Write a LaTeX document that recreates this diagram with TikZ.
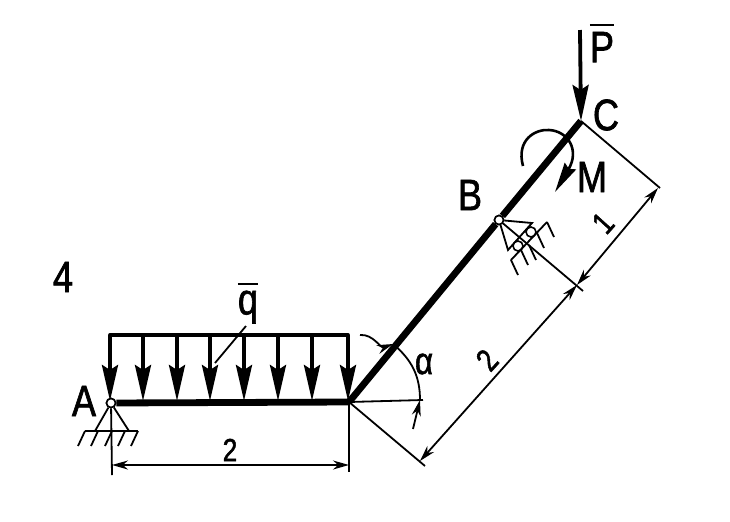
\documentclass[tikz,border=0pt]{standalone}
\usepackage{fontspec}
\setmainfont{Liberation Sans}[FakeStretch=0.82,FakeBold=1.5]
\usetikzlibrary{arrows.meta}
\newcommand{\barred}[1]{\vbox{\hrule height 1.1pt \kern 3pt \hbox{#1}}}
\begin{document}
\begin{tikzpicture}[x=0.5pt,y=-0.5pt,
        lbl/.style = {inner sep=0pt, font=\fontsize{22}{22}\selectfont},
        num/.style = {inner sep=0pt, font=\fontsize{16}{16}\selectfont},
        pin/.style = {draw, circle, fill=white, line width=0.8pt, inner sep=0pt, minimum size=4.5pt},
        rollr/.style = {draw, circle, fill=white, line width=0.8pt, inner sep=0pt, minimum size=5pt},
        beam/.style = {line width=3.4pt},
        load/.style = {line width=1.9pt, -{Stealth[length=18pt,width=8pt,inset=2.5pt]}},
        thin1/.style = {line width=0.9pt},
        dim/.style = {line width=0.9pt, {Stealth[length=8pt,width=4.5pt]}-{Stealth[length=8pt,width=4.5pt]}},
        tip/.style = {line width=0.9pt, -{Stealth[length=8pt,width=4.5pt]}}]
        \useasboundingbox (0,0) rectangle (730,521);
        % points of the frame
        \coordinate (D) at (349,402);
        \coordinate (C) at (581,121);
        \coordinate (Ptop) at (580,30);
        % ground at A
        \coordinate (Al) at (95,431);
        \coordinate (Ar) at (129,431);
        \coordinate (Ag1) at (85,431);
        \coordinate (Ag2) at (138,431);
        \draw[thin1] (Ag1) -- (Ag2);
        \foreach \x in {85,98,112,125,138}
            \draw[thin1] (\x,431) -- (\x-7,446);
        % distributed load
        \coordinate (t1) at (110,335);
        \coordinate (t8) at (348,335);
        \draw[line width=1.9pt, line cap=round] (t1) -- (t8);
        \foreach \x/\i in {110/1,143/2,177/3,210/4,244/5,278/6,312/7,348/8}{
            \coordinate (t\i) at (\x,335);
            \coordinate (b\i) at (\x,401);
            \draw[load] (t\i) -- (b\i);
        }
        \coordinate (q1) at (246,326);
        \coordinate (q2) at (215,363);
        \draw[thin1] (q1) -- (q2);
        % frame
        \node[pin] at (111,403) (A) {};
        \coordinate (Ab) at (112,475);
        \node[pin] at (499,220) (B) {};
        \draw[beam] (A) -- (D);
        \draw[beam] (D) -- (B);
        \draw[beam] (B) -- (C);
        \draw[thin1] (A) -- (Ab);
        \draw[thin1] (A) -- (Al);
        \draw[thin1] (A) -- (Ar);
        % support at B
        \coordinate (Bl) at (508,250);
        \coordinate (Br) at (532,223);
        \draw[thin1] (B) -- (Bl) -- (Br) -- (B);
        \node[rollr] at (531,232) (r1) {};
        \node[rollr] at (518,246) (r2) {};
        \coordinate (g1) at (547,222);
        \coordinate (g2) at (511,260);
        \draw[thin1] (g1) -- (g2);
        \foreach \x/\y in {547/222,537/233,529/245,521/250,511/260}
            \draw[thin1] (\x,\y) -- (\x+7,\y+15);
        % force P and moment M
        \draw[load] (Ptop) -- (C);
        \coordinate (Ms) at (523,166);
        \coordinate (Me) at (555,192);
        \draw[line width=1.3pt, -{Stealth[length=15pt,width=6.5pt,inset=1.5pt]}] (Ms) .. controls (516,140) and (535,129) .. (549,130) .. controls (568,131) and (580,150) .. (Me);
        % dimensions
        \coordinate (e1) at (112,465);
        \coordinate (e2) at (349,465);
        \coordinate (D2) at (349,472);
        \draw[thin1] (D) -- (D2);
        \draw[dim] (e1) -- (e2);
        \coordinate (f1) at (425,466);
        \coordinate (f2) at (420,461);
        \coordinate (f3) at (577,285);
        \coordinate (f4) at (583,291);
        \coordinate (f5) at (658,188);
        \coordinate (f6) at (660,188);
        \draw[thin1] (D) -- (f1);
        \draw[thin1] (B) -- (f4);
        \draw[thin1] (C) -- (f6);
        \draw[dim] (f2) -- (f3);
        \draw[dim] (f3) -- (f5);
        % angle
        \coordinate (a1) at (360,335);
        \coordinate (a2) at (393,344);
        \coordinate (a3) at (420,400);
        \coordinate (a4) at (413,429);
        \coordinate (a5) at (423,400);
        \draw[thin1] (D) -- (a5);
        \draw[tip] (a1) to [out=5,in=200] (a2);
        \draw[thin1] (a2) to [out=-40,in=90] (a3);
        \draw[tip] (a4) -- (a3);
        % pins go over the lines
        \node[pin] at (111,403) (A) {};
        \node[pin] at (499,220) (B) {};
        % labels
        \node[lbl] at (63,277) (n4) {4};
        \node[lbl] at (84,401) (lA) {A};
        \node[lbl] at (248,303) (lq) {\barred{q}};
        \node[num] at (230,450) (l2a) {2};
        \node[lbl] at (470,195) (lB) {B};
        \node[lbl] at (606,115) (lC) {C};
        \node[lbl] at (602,43) (lP) {\barred{P}};
        \node[lbl] at (592,177) (lM) {M};
        \node[inner sep=0pt, font=\fontsize{19}{19}\selectfont] at (424,364) (lal) {α};
        \node[num, rotate=48] at (487,360) (l2b) {2};
        \node[num, rotate=48] at (603,223) (l1) {1};
\end{tikzpicture}
\end{document}
